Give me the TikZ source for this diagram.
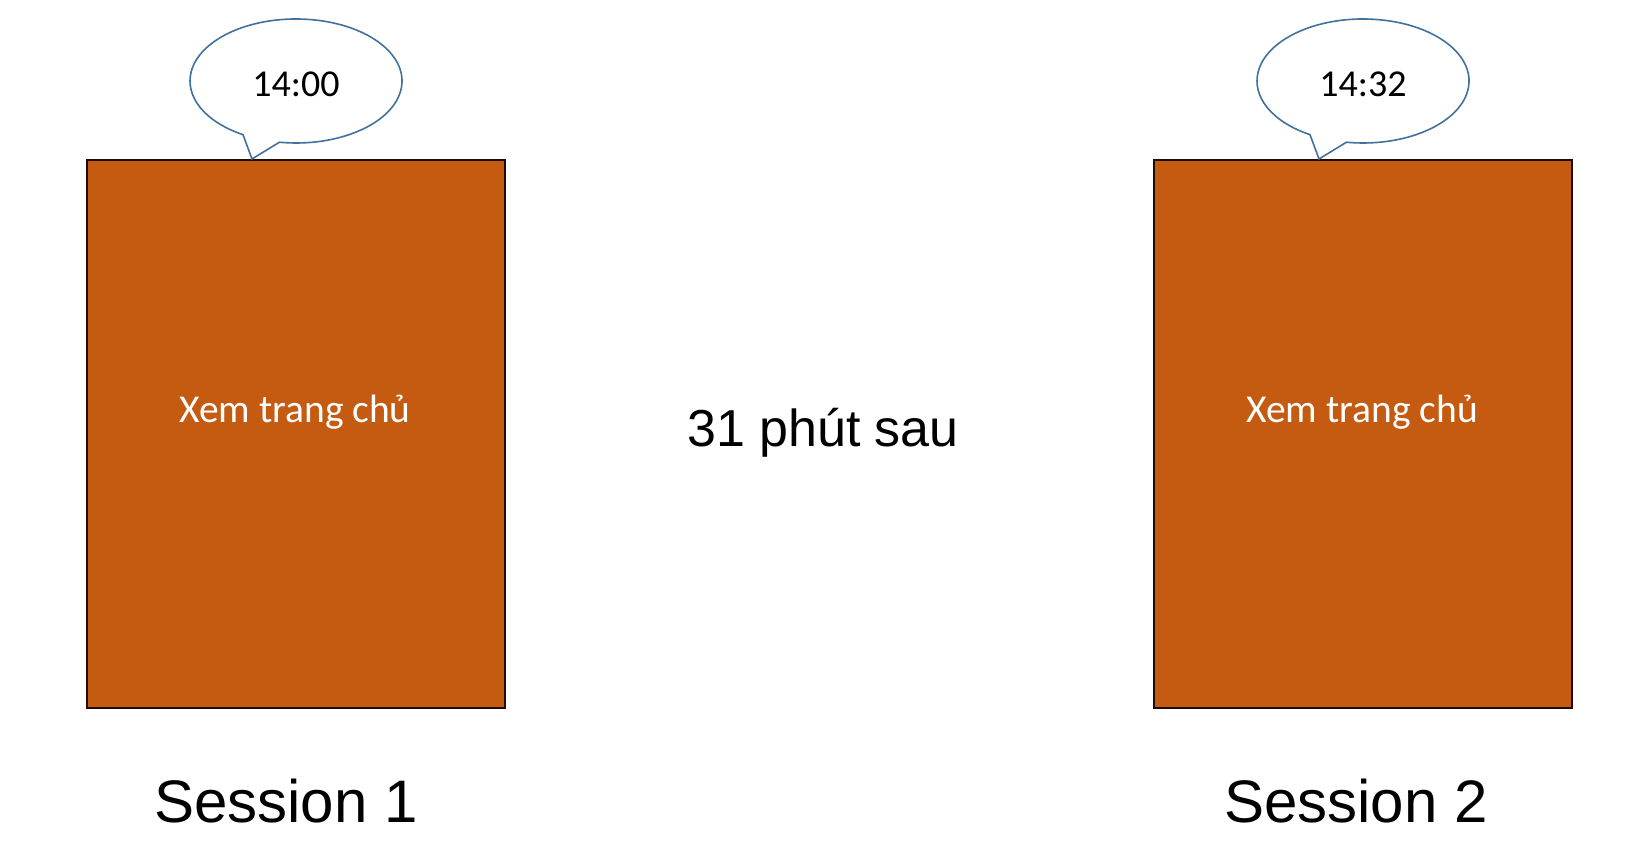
\documentclass[tikz,border=0pt]{standalone}
\usepackage{fontspec}
\setmainfont{Carlito}
\newfontfamily\arialf{Liberation Sans}
\definecolor{boxorange}{HTML}{C55A11}
\definecolor{bubbleline}{HTML}{41719C}
\begin{document}
\begin{tikzpicture}[x=1pt,y=1pt,
  box/.style={draw=black!85!boxorange, line width=1.6pt, fill=boxorange, minimum width=418pt, minimum height=548pt, inner sep=0pt},
  boxtext/.style={text=white, font=\fontsize{39.5}{47}\selectfont, inner sep=0pt, anchor=base},
  bubble/.style={draw=bubbleline, line width=1.6pt, fill=white},
  bubtext/.style={font=\fontsize{38}{46}\selectfont, inner sep=0pt, anchor=base},
  bigtext/.style={font=\arialf\fontsize{52}{62}\selectfont, inner sep=0pt, anchor=base},
  sesstext/.style={font=\arialf\fontsize{60}{72}\selectfont, inner sep=0pt, anchor=base}]
\useasboundingbox[fill=white] (0,0) rectangle (1640,856);
% boxes
\node[box] (s1) at (296,422) {};
\node[box] (s2) at (1363,422) {};
\node[boxtext] (x1) at (295,433) {Xem trang chủ};
\node[boxtext] (x2) at (1362,433) {Xem trang chủ};
% bubbles
\coordinate (c1) at (296,775);
\coordinate (tip1) at (252,697);
\draw[bubble] (c1) ++(261:106 and 62) arc[start angle=261, end angle=600, x radius=106, y radius=62] -- (tip1) -- cycle;
\node[bubtext] (t1) at (296,759) {14:00};
\coordinate (c2) at (1363,775);
\coordinate (tip2) at (1319,697);
\draw[bubble] (c2) ++(261:106 and 62) arc[start angle=261, end angle=600, x radius=106, y radius=62] -- (tip2) -- cycle;
\node[bubtext] (t2) at (1363,759) {14:32};
% middle and labels
\node[bigtext] (mid) at (823,409) {31 phút sau};
\node[sesstext] (l1) at (286,33) {Session 1};
\node[sesstext] (l2) at (1356,33) {Session 2};
\end{tikzpicture}
\end{document}
